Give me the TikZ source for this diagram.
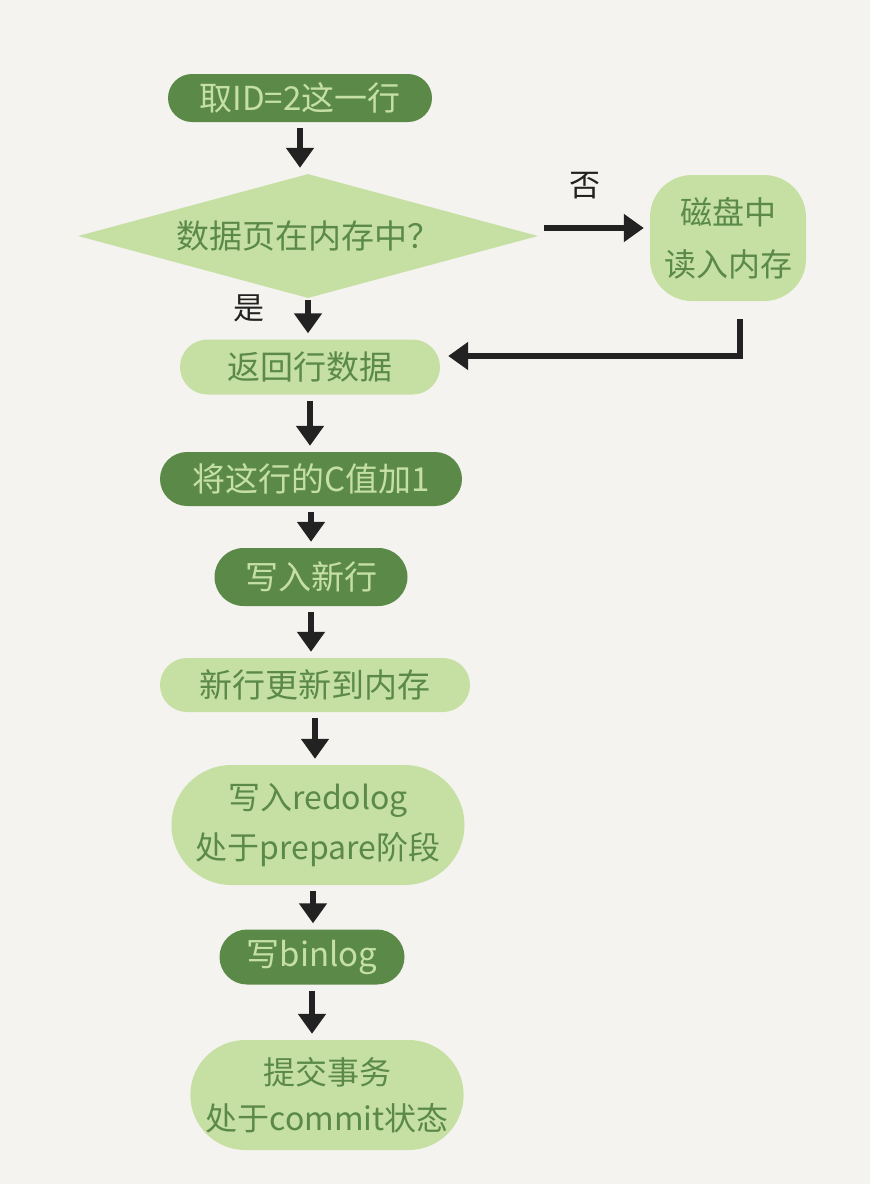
\documentclass[tikz,border=0pt]{standalone}
\usepackage{fontspec}
\newfontfamily\cjk{Noto Sans CJK SC}
\usetikzlibrary{shapes.geometric,shapes.misc,arrows.meta}
\definecolor{bg}{HTML}{F4F3EF}
\definecolor{dkg}{HTML}{5B8A48}
\definecolor{ltg}{HTML}{C6E0A4}
\definecolor{ink}{HTML}{222222}
\tikzset{
  base/.style={inner sep=0pt, align=center, font=\cjk\fontsize{33}{46}\selectfont},
  darkpill/.style={base, rounded rectangle, fill=dkg, text=ltg},
  lightpill/.style={base, rounded rectangle, fill=ltg, text=dkg},
  arr/.style={draw=ink, line width=5.5pt, -{Triangle[width=27pt,length=20pt]}, shorten <=6pt, shorten >=6pt},
  lab/.style={inner sep=0pt, text=ink, font=\cjk\fontsize{31}{36}\selectfont}
}
\begin{document}
\begin{tikzpicture}[x=1pt,y=-1pt]
\fill[bg] (0,0) rectangle (870,1184);
\useasboundingbox (0,0) rectangle (870,1184);

\node[darkpill, minimum width=264pt, minimum height=48pt] (n1) at (300,98) {取ID=2这一行};
\node[base, diamond, aspect=3.7, fill=ltg, text=dkg, minimum width=460pt, minimum height=124pt] (dia) at (308,236) {数据页在内存中？};
\node[base, fill=ltg, text=dkg, rounded corners=42pt, minimum width=156pt, minimum height=126pt, font=\cjk\fontsize{32}{52}\selectfont] (disk) at (728,238) {磁盘中\\读入内存};
\node[lightpill, minimum width=260pt, minimum height=55pt] (ret) at (310,367) {返回行数据};
\node[darkpill, minimum width=302pt, minimum height=54pt] (inc) at (311,479) {将这行的C值加1};
\node[darkpill, minimum width=193pt, minimum height=58pt] (wr) at (311,577) {写入新行};
\node[lightpill, minimum width=310pt, minimum height=54pt] (mem) at (315,685) {新行更新到内存};
\node[lightpill, minimum width=293pt, minimum height=120pt, font=\cjk\fontsize{32}{50}\selectfont] (redo) at (318,825) {写入redolog\\处于prepare阶段};
\node[darkpill, minimum width=185pt, minimum height=55pt] (bin) at (312,957) {写binlog};
\node[lightpill, minimum width=260pt, minimum height=110pt, font=\cjk\fontsize{32}{46}\selectfont] (com) at (327,1095) {提交事务\\处于commit状态};

\node[lab] (no) at (585,186) {否};
\node[lab] (yes) at (249,308) {是};

\draw[arr] (n1.south) -- (n1.south |- dia.north);
\draw[arr] ([yshift=8pt]dia.east) -- ([yshift=10pt]disk.west);
\draw[arr, shorten <=2pt] (dia.south) -- (dia.south |- ret.north);
\draw[arr, shorten <=18pt, shorten >=8pt] ([xshift=12pt]disk.south) |- ([yshift=11pt]ret.east);
\draw[arr] (ret.south) -- (ret.south |- inc.north);
\draw[arr] (inc.south) -- (inc.south |- wr.north);
\draw[arr] (wr.south) -- (wr.south |- mem.north);
\draw[arr] (mem.south) -- (mem.south |- redo.north);
\draw[arr] ([xshift=-5pt]redo.south) -- ([xshift=-5pt]redo.south |- bin.north);
\draw[arr] (bin.south) -- (bin.south |- com.north);
\end{tikzpicture}
\end{document}
